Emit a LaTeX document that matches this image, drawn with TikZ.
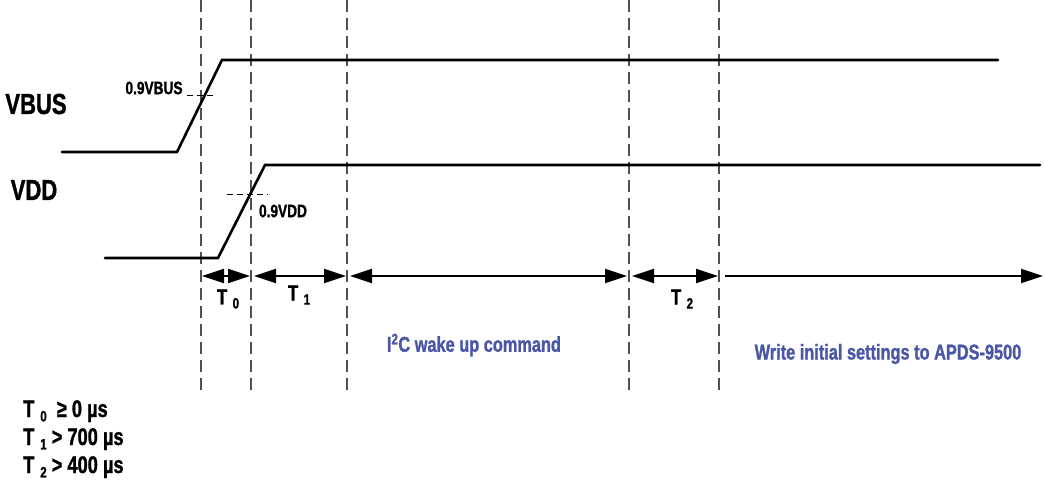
\documentclass[tikz,border=0pt]{standalone}
\usepackage{fontspec}
\setmainfont{Liberation Sans}[FakeStretch=0.76,FakeBold=1.2]
\usetikzlibrary{arrows.meta}
\definecolor{lblue}{HTML}{4A56A6}
\definecolor{dgray}{HTML}{505050}
\newcommand{\Tsub}[1]{T\kern0.25em\raisebox{-0.35ex}{\fontsize{15}{15}\selectfont #1}}
\begin{document}
\begin{tikzpicture}[x=1pt,y=-1pt,
  sig/.style={line width=2.6pt,line cap=round,line join=miter},
  guide/.style={dgray,line width=1.3pt,dash pattern=on 12pt off 6pt},
  lvl/.style={black,line width=0.9pt,dash pattern=on 6pt off 4pt},
  dim/.style={line width=2.2pt,{Triangle[length=22pt,width=14pt]}-{Triangle[length=22pt,width=14pt]}},
  dimr/.style={line width=2.2pt,-{Triangle[length=22pt,width=14pt]}},
  big/.style={font=\bfseries\fontsize{29}{30}\selectfont,inner sep=0pt},
  small/.style={font=\bfseries\fontsize{18}{20}\selectfont,inner sep=0pt},
  tlab/.style={font=\bfseries\fontsize{22}{24}\selectfont,inner sep=0pt},
  blue/.style={font=\bfseries\fontsize{21.5}{24}\selectfont,text=lblue,inner sep=0pt},
  cond/.style={font=\bfseries\fontsize{24}{26}\selectfont,inner sep=0pt,anchor=base west}]
\useasboundingbox (0,0) rectangle (1045,482);
% guide coordinates
\foreach \n/\x in {a/201,b/251,c/347,d/629,e/719}{
  \coordinate (\n t) at (\x,0);
  \coordinate (\n b) at (\x,390);
  \coordinate (\n m) at (\x,276);
}
\coordinate (endm) at (1043,276);
\foreach \n in {a,b,c,d,e}{\draw[guide] (\n t) -- (\n b);}
% signals
\coordinate (vb0) at (62,152); \coordinate (vb1) at (177,152);
\coordinate (vb2) at (222,60); \coordinate (vb3) at (998,60);
\draw[sig] (vb0) -- (vb1) -- (vb2) -- (vb3);
\coordinate (vd0) at (105,258); \coordinate (vd1) at (218,258);
\coordinate (vd2) at (265,165); \coordinate (vd3) at (1040,165);
\draw[sig] (vd0) -- (vd1) -- (vd2) -- (vd3);
% 90% levels
\coordinate (l1a) at (187,95); \coordinate (l1b) at (213,95);
\draw[lvl] (l1a) -- (l1b);
\coordinate (l2a) at (227,194); \coordinate (l2b) at (268,194);
\draw[lvl] (l2a) -- (l2b);
% labels
\node[big] (vbus) at (36,104) {VBUS};
\node[big] (vdd) at (34,190) {VDD};
\node[small] (l90b) at (154,88) {0.9VBUS};
\node[small] (l90d) at (283,211) {0.9VDD};
% dimension arrows
\draw[dim] ([xshift=1pt]am) -- ([xshift=-1pt]bm);
\draw[dim] ([xshift=3pt]bm) -- ([xshift=-1pt]cm);
\draw[dim] ([xshift=3pt]cm) -- ([xshift=-2pt]dm);
\draw[dim] ([xshift=3pt]dm) -- ([xshift=-1pt]em);
\draw[dimr] ([xshift=6pt]em) -- (endm);
\node[tlab] (t0) at (228,299) {\Tsub{0}};
\node[tlab] (t1) at (299,295) {\Tsub{1}};
\node[tlab] (t2) at (682,299) {\Tsub{2}};
\node[blue] (i2c) at (474,345) {I\textsuperscript{2}C wake up command};
\node[blue] (wr) at (888,354) {Write initial settings to APDS-9500};
\node[cond] (c0) at (23,417) {\Tsub{0}\ \ ≥ 0 µs};
\node[cond] (c1) at (23,445) {\Tsub{1} > 700 µs};
\node[cond] (c2) at (23,473) {\Tsub{2} > 400 µs};
\end{tikzpicture}
\end{document}
